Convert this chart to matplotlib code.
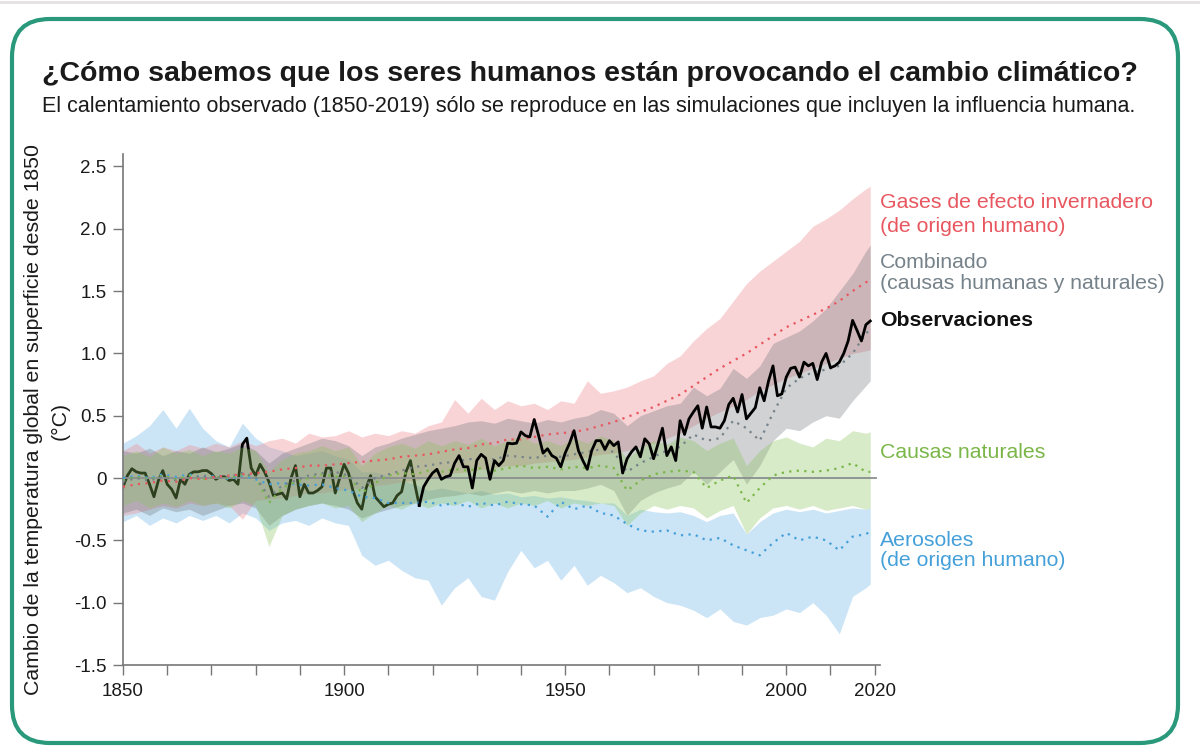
import matplotlib
matplotlib.use("Agg")
import matplotlib.pyplot as plt
from matplotlib.patches import FancyBboxPatch

plt.rcParams['font.family'] = ['Liberation Sans', 'DejaVu Sans']

# observed global surface temperature change, 1850-2019 (°C vs 1850-1900)
obs_years = list(range(1850, 2020))
obs = [
    -0.07, 0.02, 0.075, 0.05, 0.04, 0.04, -0.05, -0.15, -0.02, 0.06,
    -0.05, -0.09, -0.16, -0.01, -0.05, 0.03, 0.05, 0.05, 0.06, 0.06,
    0.035, -0.01, 0.01, 0.01, -0.02, -0.01, -0.05, 0.27, 0.32, 0.08,
    0.02, 0.11, 0.05, -0.03, -0.14, -0.13, -0.12, -0.17, 0.0, 0.10,
    -0.15, -0.05, -0.12, -0.12, -0.10, -0.07, 0.08, 0.08, -0.12, 0.0,
    0.11, 0.04, -0.10, -0.20, -0.25, -0.08, 0.02, -0.15, -0.19, -0.23,
    -0.21, -0.20, -0.14, -0.11, 0.05, 0.14, -0.05, -0.22, -0.07, -0.01,
    0.04, 0.07, -0.01, 0.01, 0.02, 0.12, 0.18, 0.09, 0.09, -0.08,
    0.14, 0.19, 0.16, -0.01, 0.14, 0.10, 0.14, 0.28, 0.275, 0.28,
    0.37, 0.34, 0.33, 0.47, 0.34, 0.20, 0.235, 0.18, 0.16, 0.09,
    0.20, 0.28, 0.38, 0.22, 0.14, 0.07, 0.22, 0.30, 0.30, 0.23,
    0.30, 0.26, 0.29, 0.04, 0.155, 0.21, 0.25, 0.17, 0.315, 0.275,
    0.155, 0.275, 0.40, 0.18, 0.25, 0.14, 0.46, 0.35, 0.475, 0.53,
    0.58, 0.40, 0.57, 0.41, 0.41, 0.40, 0.46, 0.59, 0.64, 0.53,
    0.67, 0.475, 0.52, 0.565, 0.725, 0.62, 0.78, 0.90, 0.66, 0.675,
    0.81, 0.88, 0.89, 0.81, 0.93, 0.90, 0.92, 0.79, 0.93, 1.00,
    0.885, 0.90, 0.93, 1.00, 1.10, 1.265, 1.185, 1.10, 1.23, 1.26,
]

# simulated ranges, read every 3 years (plus 2019)
model_years = list(range(1850, 2019, 3)) + [2019]

ghg_hi = [0.22, 0.28, 0.20, 0.25, 0.22, 0.27, 0.24, 0.28, 0.25, 0.30,
          0.26, 0.30, 0.32, 0.28, 0.36, 0.33, 0.34, 0.38, 0.33, 0.36,
          0.34, 0.38, 0.36, 0.42, 0.45, 0.63, 0.52, 0.64, 0.55, 0.62,
          0.58, 0.60, 0.55, 0.62, 0.60, 0.78, 0.68, 0.70, 0.73, 0.78,
          0.82, 0.92, 0.98, 1.10, 1.20, 1.28, 1.42, 1.56, 1.66, 1.74,
          1.82, 1.90, 2.02, 2.08, 2.15, 2.24, 2.32, 2.34]
ghg_mid = [-0.07, -0.05, -0.04, -0.02, -0.03, 0.0, -0.01, 0.01, 0.02, 0.03,
           0.04, 0.05, 0.07, 0.08, 0.10, 0.10, 0.11, 0.12, 0.13, 0.14,
           0.15, 0.17, 0.18, 0.19, 0.21, 0.23, 0.24, 0.27, 0.28, 0.31,
           0.31, 0.33, 0.35, 0.36, 0.37, 0.39, 0.42, 0.45, 0.49, 0.53,
           0.57, 0.62, 0.67, 0.74, 0.81, 0.88, 0.94, 1.00, 1.07, 1.14,
           1.21, 1.26, 1.31, 1.36, 1.42, 1.50, 1.57, 1.59]
ghg_lo = [-0.30, -0.28, -0.25, -0.22, -0.24, -0.20, -0.22, -0.20, -0.22, -0.33,
          -0.18, -0.17, -0.16, -0.14, -0.12, -0.12, -0.10, -0.09, -0.08, -0.06,
          -0.05, -0.03, -0.02, 0.0, 0.02, 0.04, 0.05, 0.07, 0.08, 0.10,
          0.10, 0.12, 0.13, 0.14, 0.15, 0.17, 0.19, 0.20, 0.22, 0.25,
          0.28, 0.32, 0.36, 0.42, 0.48, 0.53, 0.58, 0.63, 0.70, 0.75,
          0.80, 0.84, 0.88, 0.92, 0.96, 1.00, 1.02, 1.03]

comb_hi = [0.22, 0.20, 0.24, 0.18, 0.22, 0.20, 0.25, 0.21, 0.24, 0.28,
           0.22, 0.12, 0.20, 0.24, 0.28, 0.32, 0.30, 0.26, 0.18, 0.25,
           0.28, 0.32, 0.35, 0.38, 0.40, 0.42, 0.45, 0.46, 0.44, 0.48,
           0.46, 0.44, 0.47, 0.45, 0.48, 0.50, 0.55, 0.52, 0.42, 0.50,
           0.54, 0.58, 0.60, 0.73, 0.66, 0.72, 0.88, 0.80, 0.90, 1.08,
           1.13, 1.18, 1.26, 1.36, 1.50, 1.64, 1.82, 1.87]
comb_mid = [-0.03, 0.0, -0.02, 0.01, -0.02, 0.0, 0.02, 0.0, 0.01, 0.04,
            0.01, -0.15, -0.06, -0.02, 0.02, 0.04, 0.05, 0.02, -0.08, 0.0,
            0.03, 0.06, 0.09, 0.10, 0.12, 0.13, 0.15, 0.16, 0.15, 0.18,
            0.17, 0.16, 0.18, 0.17, 0.19, 0.21, 0.23, 0.21, 0.05, 0.12,
            0.17, 0.22, 0.25, 0.35, 0.30, 0.32, 0.46, 0.40, 0.30, 0.52,
            0.72, 0.80, 0.85, 0.87, 0.90, 1.00, 1.16, 1.19]
comb_lo = [-0.28, -0.25, -0.30, -0.24, -0.27, -0.25, -0.30, -0.26, -0.22, -0.20,
           -0.24, -0.38, -0.30, -0.25, -0.22, -0.20, -0.22, -0.25, -0.32, -0.28,
           -0.25, -0.22, -0.20, -0.17, -0.15, -0.14, -0.12, -0.14, -0.12, -0.10,
           -0.12, -0.10, -0.12, -0.10, -0.10, -0.08, -0.05, -0.10, -0.30, -0.18,
           -0.12, -0.08, -0.05, 0.05, -0.05, 0.05, 0.15, -0.05, 0.10, 0.30,
           0.40, 0.38, 0.45, 0.50, 0.48, 0.62, 0.74, 0.78]

nat_hi = [0.18, 0.22, 0.17, 0.25, 0.20, 0.23, 0.18, 0.22, 0.20, 0.25,
          0.22, 0.05, 0.15, 0.20, 0.22, 0.26, 0.22, 0.25, 0.10, 0.20,
          0.25, 0.28, 0.24, 0.30, 0.26, 0.30, 0.27, 0.32, 0.26, 0.30,
          0.34, 0.28, 0.30, 0.26, 0.32, 0.28, 0.34, 0.30, 0.15, 0.25,
          0.30, 0.27, 0.33, 0.30, 0.22, 0.28, 0.32, 0.10, 0.22, 0.30,
          0.33, 0.28, 0.25, 0.32, 0.30, 0.38, 0.36, 0.37]
nat_mid = [-0.02, 0.01, -0.01, 0.02, -0.01, 0.02, -0.01, 0.01, 0.0, 0.03,
           0.01, -0.20, -0.08, -0.03, 0.0, 0.03, 0.01, 0.02, -0.12, -0.04,
           0.02, 0.04, 0.03, 0.06, 0.05, 0.07, 0.06, 0.08, 0.06, 0.08,
           0.10, 0.08, 0.09, 0.07, 0.09, 0.08, 0.10, 0.08, -0.10, -0.02,
           0.03, 0.05, 0.06, 0.05, -0.08, -0.02, 0.02, -0.20, -0.08, 0.02,
           0.05, 0.06, 0.05, 0.06, 0.08, 0.12, 0.05, 0.05]
nat_lo = [-0.22, -0.18, -0.24, -0.20, -0.23, -0.18, -0.22, -0.20, -0.24, -0.18,
          -0.22, -0.55, -0.30, -0.25, -0.22, -0.20, -0.24, -0.22, -0.35, -0.28,
          -0.22, -0.25, -0.20, -0.24, -0.20, -0.22, -0.18, -0.24, -0.20, -0.24,
          -0.20, -0.22, -0.18, -0.24, -0.20, -0.22, -0.20, -0.22, -0.38, -0.28,
          -0.22, -0.25, -0.22, -0.24, -0.32, -0.26, -0.22, -0.45, -0.32, -0.24,
          -0.22, -0.25, -0.22, -0.26, -0.24, -0.22, -0.25, -0.24]

aer_hi = [0.28, 0.34, 0.42, 0.55, 0.40, 0.56, 0.40, 0.30, 0.25, 0.44,
          0.32, 0.25, 0.22, 0.18, 0.20, 0.22, 0.18, 0.15, 0.05, 0.05,
          0.02, -0.02, -0.05, -0.10, -0.08, -0.10, -0.12, -0.10, -0.13, -0.12,
          -0.15, -0.14, -0.16, -0.15, -0.17, -0.18, -0.20, -0.20, -0.30, -0.25,
          -0.27, -0.28, -0.27, -0.30, -0.35, -0.30, -0.28, -0.45, -0.35, -0.28,
          -0.25, -0.27, -0.25, -0.28, -0.26, -0.24, -0.25, -0.24]
aer_mid = [0.0, 0.02, 0.0, 0.03, 0.01, 0.03, 0.0, 0.02, -0.01, 0.02,
           -0.01, -0.05, -0.04, -0.05, -0.06, -0.05, -0.08, -0.10, -0.15, -0.16,
           -0.20, -0.20, -0.20, -0.19, -0.22, -0.20, -0.23, -0.20, -0.22, -0.19,
           -0.21, -0.22, -0.31, -0.19, -0.25, -0.22, -0.28, -0.30, -0.37, -0.42,
           -0.43, -0.42, -0.46, -0.45, -0.50, -0.48, -0.54, -0.58, -0.62, -0.52,
           -0.44, -0.50, -0.47, -0.50, -0.58, -0.47, -0.45, -0.43]
aer_lo = [-0.35, -0.30, -0.38, -0.32, -0.36, -0.30, -0.34, -0.30, -0.36, -0.28,
          -0.32, -0.42, -0.36, -0.34, -0.38, -0.32, -0.36, -0.38, -0.62, -0.70,
          -0.66, -0.74, -0.80, -0.82, -1.02, -0.88, -0.80, -0.95, -0.98, -0.75,
          -0.58, -0.72, -0.66, -0.82, -0.70, -0.86, -0.78, -0.84, -0.92, -0.88,
          -0.95, -1.00, -1.02, -1.06, -1.12, -1.05, -1.15, -1.18, -1.12, -1.10,
          -1.05, -1.08, -1.00, -1.10, -1.25, -0.95, -0.88, -0.85]

x_ticks = list(range(1850, 2021, 10))
x_labeled = [1850, 1900, 1950, 2000, 2020]
y_ticks = [-1.5, -1.0, -0.5, 0, 0.5, 1.0, 1.5, 2.0, 2.5]
y_labels = ['-1.5', '-1.0', '-0.5', '0', '0.5', '1.0', '1.5', '2.0', '2.5']

RED, GREY, GREEN, BLUE = '#e8575f', '#76828a', '#7ab648', '#45a0da'

fig = plt.figure(figsize=(12, 7.48), dpi=100)

# pixel-space background layer for frame and texts
bg = fig.add_axes([0, 0, 1, 1], zorder=0)
bg.set_xlim(0, 1200)
bg.set_ylim(748, 0)
bg.axis('off')
bg.plot([0, 1200], [2, 2], color='#e6e0e2', lw=2)
bg.add_patch(FancyBboxPatch((12, 19), 1166, 724,
                            boxstyle='round,pad=0,rounding_size=38',
                            fill=False, ec='#2a997b', lw=3))

bg.text(42, 74, '¿Cómo sabemos que los seres humanos están provocando el cambio climático?',
        fontsize=20.5, fontweight='bold', color='#1a1a1a', va='center')
bg.text(42, 106, 'El calentamiento observado (1850-2019) sólo se reproduce en las simulaciones '
        'que incluyen la influencia humana.', fontsize=15.5, color='#1a1a1a', va='center')
bg.text(34, 420, 'Cambio de la temperatura global en superficie desde 1850',
        rotation=90, fontsize=15.3, color='#1a1a1a', ha='center', va='center')
bg.text(60, 421, '(°C)', rotation=90, fontsize=15.3, color='#1a1a1a', ha='center', va='center')

lab_kw = dict(fontsize=15.3, va='center', ha='left')
bg.text(880, 202, 'Gases de efecto invernadero', color=RED, **lab_kw)
bg.text(880, 226, '(de origen humano)', color=RED, **lab_kw)
bg.text(880, 262, 'Combinado', color=GREY, **lab_kw)
bg.text(880, 283, '(causas humanas y naturales)', color=GREY, **lab_kw)
bg.text(880, 320, 'Observaciones', color='#111111', fontweight='bold', **lab_kw)
bg.text(880, 452, 'Causas naturales', color=GREEN, **lab_kw)
bg.text(880, 541, 'Aerosoles', color=BLUE, **lab_kw)
bg.text(880, 561, '(de origen humano)', color=BLUE, **lab_kw)

ax = fig.add_axes([123 / 1200, 83 / 748, 757 / 1200, 511 / 748], zorder=1)
ax.patch.set_alpha(0)

ax.fill_between(model_years, aer_lo, aer_hi, color='#7fbfea', alpha=0.4, lw=0, zorder=1)
ax.fill_between(model_years, ghg_lo, ghg_hi, color='#f08a90', alpha=0.36, lw=0, zorder=1.1)
ax.fill_between(model_years, comb_lo, comb_hi, color='#6e7478', alpha=0.32, lw=0, zorder=1.2)

# early observations sit under the green range, later ones on top
ax.plot(obs_years[:68], obs[:68], color='black', lw=2, zorder=1.3, solid_joinstyle='round')
ax.fill_between(model_years, nat_lo, nat_hi, color='#8ac45c', alpha=0.33, lw=0, zorder=1.4)

ax.axhline(0, color='#8a8f8f', lw=1.3, zorder=2, xmax=0.995)

dot = (0, (1, 2.4))
ax.plot(model_years, aer_mid, color=BLUE, lw=1.6, ls=dot, zorder=3)
ax.plot(model_years, nat_mid, color=GREEN, lw=1.6, ls=dot, zorder=3)
ax.plot(model_years, comb_mid, color=GREY, lw=1.6, ls=dot, zorder=3)
ax.plot(model_years, ghg_mid, color=RED, lw=1.6, ls=dot, zorder=3)

ax.plot(obs_years[67:], obs[67:], color='black', lw=2, zorder=5, solid_joinstyle='round')

ax.set_xlim(1850, 2021.2)
ax.set_ylim(-1.5, 2.6)
ax.set_xticks(x_ticks)
ax.set_xticklabels([str(y) if y in x_labeled else '' for y in x_ticks])
ax.set_yticks(y_ticks)
ax.set_yticklabels(y_labels)
ax.tick_params(axis='both', direction='out', length=7, width=1, color='#777777',
               labelsize=13.5, labelcolor='#1a1a1a')
ax.tick_params(axis='x', pad=6)
ax.tick_params(axis='y', pad=5)
for s in ['top', 'right']:
    ax.spines[s].set_visible(False)
for s in ['left', 'bottom']:
    ax.spines[s].set_color('#777777')
    ax.spines[s].set_linewidth(1.2)

fig.savefig('out.png', dpi=100)
